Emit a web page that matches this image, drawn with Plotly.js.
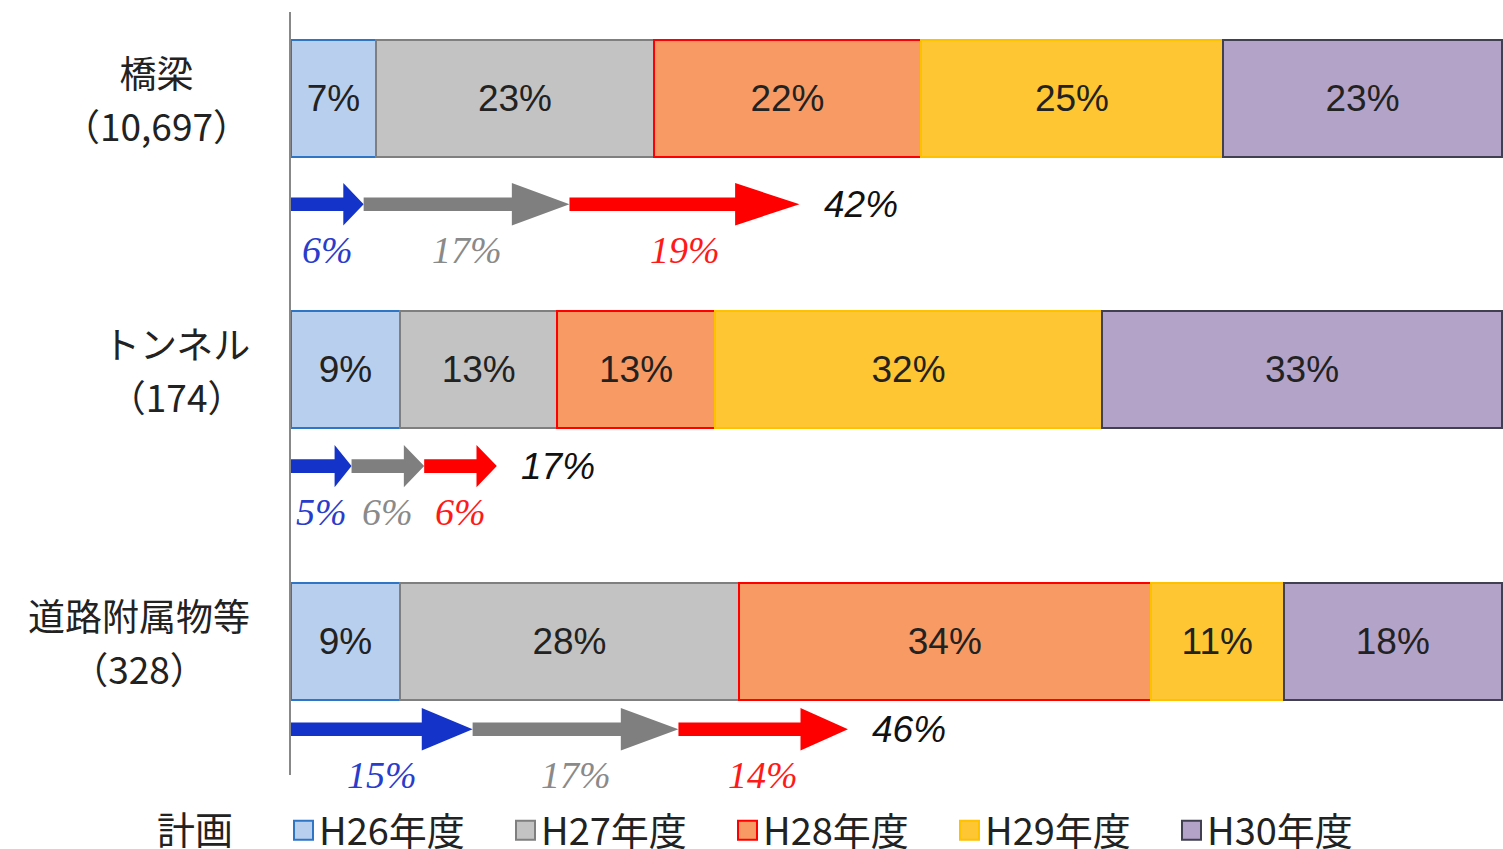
<!DOCTYPE html>
<html>
<head>
<meta charset="utf-8">
<script src="https://cdn.plot.ly/plotly-3.0.1.min.js"></script>
<style>
html,body{margin:0;padding:0;background:#fff;}
#chart{width:1503px;height:849px;}
</style>
</head>
<body>
<div id="chart"></div>
<script>
// ---- data ----
const categoryNames = ['橋梁', 'トンネル', '道路附属物等'];
const categoryCounts = ['10,697', '174', '328'];
const seriesNames = ['H26年度', 'H27年度', 'H28年度', 'H29年度', 'H30年度'];
const h26 = [7, 9, 9];
const h27 = [23, 13, 28];
const h28 = [22, 13, 34];
const h29 = [25, 32, 11];
const h30 = [23, 33, 18];
// plan arrows (計画)
const planBlue = [6, 5, 15];
const planGray = [17, 6, 17];
const planRed = [19, 6, 14];
const planTotal = [42, 17, 46];
const legendTitle = '計画';

// ---- styles ----
const fills = ['#b8cfee', '#c3c3c3', '#f79a64', '#fdc632', '#b3a3c9'];
const borders = ['#2e75c6', '#7f7f7f', '#ff0000', '#ffc000', '#404050'];
const arrowColors = ['#1433c8', '#7f7f7f', '#ff0000'];
const arrowTextColors = ['#2a3ccc', '#8a8a8a', '#ff1a1a'];
const cjk = '"Noto Sans CJK JP", "Noto Sans", sans-serif';
const sans = '"Liberation Sans", Arial, sans-serif';
const serif = '"Liberation Serif", "DejaVu Serif", serif';
const arrowOffsets = [0.39, 0.355, 0.325];   // layout: arrow row below each bar (axis units)

const yIdx = categoryNames.map((_, i) => i);
const seriesValues = [h26, h27, h28, h29, h30];

const traces = seriesValues.map((vals, s) => ({
  type: 'bar',
  orientation: 'h',
  name: seriesNames[s],
  x: vals,
  y: yIdx,
  width: 0.431,
  marker: {color: fills[s], line: {color: borders[s], width: 2}},
  text: vals.map(v => v + '%'),
  textposition: 'inside',
  insidetextanchor: 'middle',
  constraintext: 'none',
  textfont: {family: sans, size: 37, color: '#222'},
  hoverinfo: 'skip'
}));

// arrows
const shaftHalf = 0.025;
const headHalf = 0.078;
const annotations = [];
const planSeries = [planBlue, planGray, planRed];
yIdx.forEach(i => {
  const yc = i + arrowOffsets[i];
  let start = 0;
  planSeries.forEach((arr, k) => {
    const v = arr[i];
    const end = start + v;
    const h = 0.28 * v;
    traces.push({
      type: 'scatter', mode: 'lines', fill: 'toself',
      x: [start, end - h, end - h, end, end - h, end - h, start, start],
      y: [yc - shaftHalf, yc - shaftHalf, yc - headHalf, yc, yc + headHalf, yc + shaftHalf, yc + shaftHalf, yc - shaftHalf],
      line: {width: 0, color: arrowColors[k]},
      fillcolor: arrowColors[k],
      showlegend: false, hoverinfo: 'skip'
    });
    annotations.push({
      xref: 'x', yref: 'y', x: start + v / 2, y: yc, yshift: -46,
      text: v + '%', showarrow: false, xanchor: 'center', yanchor: 'middle',
      font: {family: serif, size: 38, color: arrowTextColors[k], style: 'italic'}
    });
    start = end;
  });
  annotations.push({
    xref: 'x', yref: 'y', x: planTotal[i], y: yc, xshift: 22,
    text: planTotal[i] + '%', showarrow: false, xanchor: 'left', yanchor: 'middle',
    font: {family: sans, size: 37, color: '#111', style: 'italic'}
  });
  annotations.push({
    xref: 'paper', yref: 'y', x: -0.032, y: i,
    text: '<span style="font-size:37px">' + categoryNames[i] + '</span><br><span style="font-size:37px">（' + categoryCounts[i] + '）</span>',
    showarrow: false, xanchor: 'right', yanchor: 'middle', align: 'center',
    font: {family: cjk, size: 41, color: '#222'}
  });
});
// legend caption
annotations.push({
  xref: 'paper', yref: 'paper', x: -0.0792, y: -0.069,
  text: legendTitle, showarrow: false, xanchor: 'center', yanchor: 'middle',
  font: {family: cjk, size: 38, color: '#222'}
});

const layout = {
  width: 1503, height: 849,
  margin: {l: 291, r: 0, t: 12, b: 74, autoexpand: false},
  paper_bgcolor: '#fff', plot_bgcolor: '#fff',
  barmode: 'stack',
  showlegend: true,
  xaxis: {range: [0, 100.1], visible: false, fixedrange: true},
  yaxis: {range: [2.4935, -0.3186], showticklabels: false, ticks: '', showgrid: false,
          zeroline: false, showline: true, linecolor: '#888', linewidth: 2, fixedrange: true},
  legend: {
    orientation: 'h', x: -0.0099, xanchor: 'left', y: -0.031, yanchor: 'top',
    font: {family: cjk, size: 38, color: '#222'},
    entrywidth: 177, entrywidthmode: 'pixels',
    traceorder: 'normal', bgcolor: 'rgba(0,0,0,0)'
  },
  annotations: annotations
};

Plotly.newPlot('chart', traces, layout, {displayModeBar: false, staticPlot: true}).then(gd => {
  // larger legend swatches, as in the reference
  gd.querySelectorAll('.legend .legendpoints path').forEach(p => {
    p.setAttribute('d', 'M14,10H-5V-9H14Z');
  });
});
</script>
</body>
</html>
